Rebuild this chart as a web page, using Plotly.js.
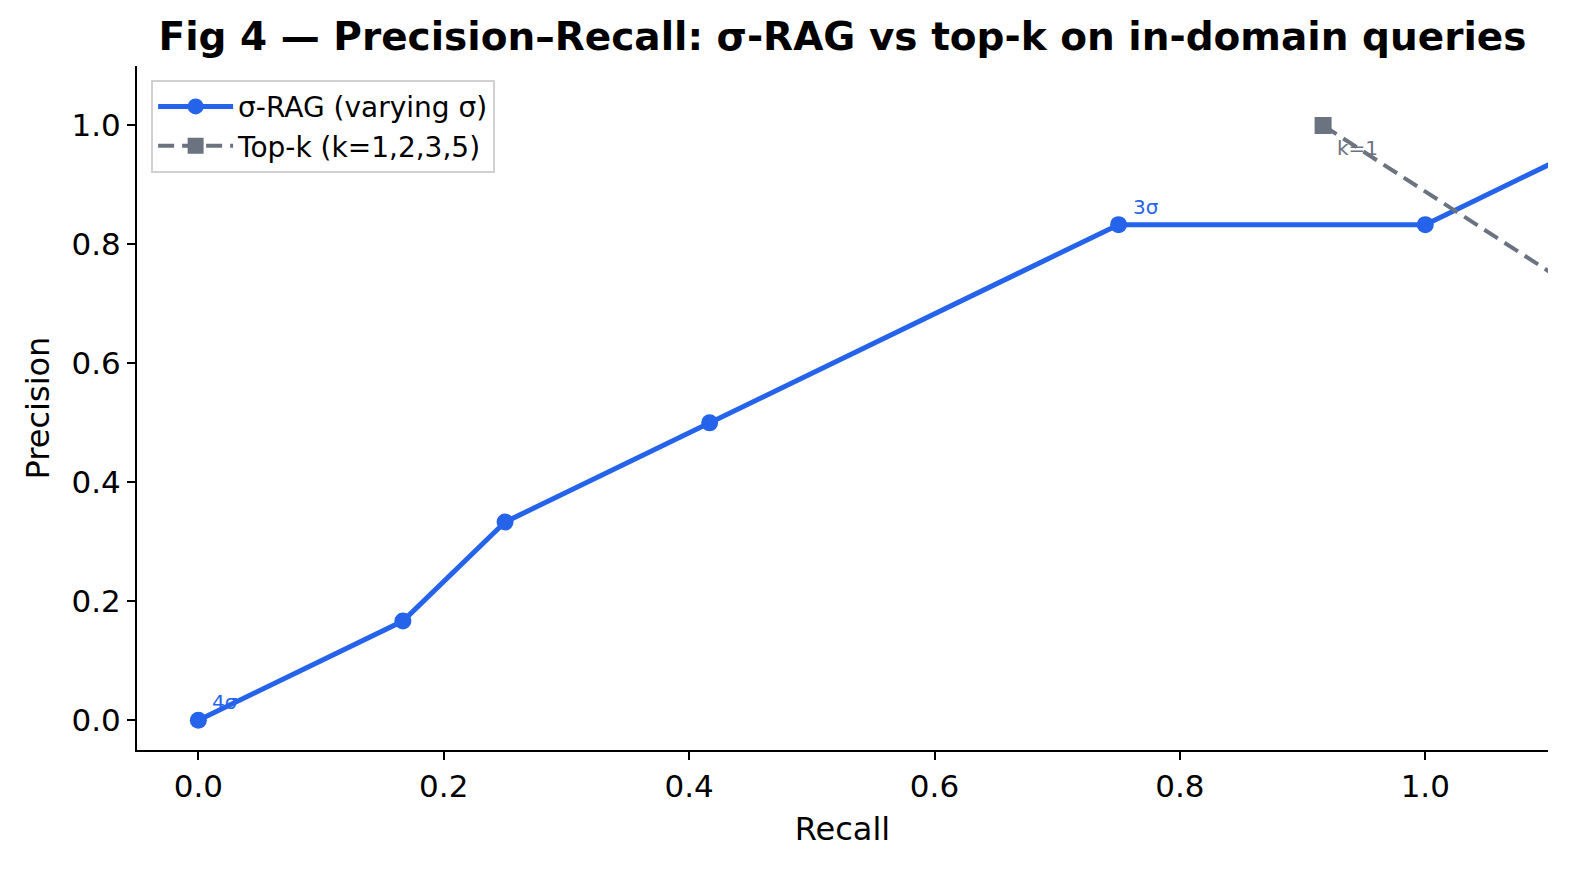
<!DOCTYPE html>
<html>
<head>
<meta charset="utf-8">
<script src="https://cdn.plot.ly/plotly-3.0.1.min.js"></script>
<style>html,body{margin:0;padding:0;background:#fff}#chart{width:1569px;height:869px}</style>
</head>
<body>
<div id="chart"></div>
<script>
// σ-RAG (varying σ)
const sigmaRecall = [0.0, 0.1667, 0.25, 0.4167, 0.75, 1.0, 1.1667];
const sigmaPrecision = [0.0, 0.1667, 0.3333, 0.5, 0.8333, 0.8333, 1.0];
const sigmaLabelIdx = [0, 4];
const sigmaLabels = ["4σ", "3σ"];
// Top-k
const topkRecall = [0.9167, 1.1667];
const topkPrecision = [1.0, 0.6667];
const topkLabelIdx = [0];
const topkLabels = ["k=1"];

const xTicks = [0.0, 0.2, 0.4, 0.6, 0.8, 1.0];
const yTicks = [0.0, 0.2, 0.4, 0.6, 0.8, 1.0];

const FONT = "DejaVu Sans, sans-serif";
const BLUE = "#2563eb";
const GRAY = "#6b7280";

const traces = [
  {
    x: sigmaRecall, y: sigmaPrecision, mode: "lines+markers", name: "σ-RAG (varying σ)",
    line: {color: BLUE, width: 5}, marker: {color: BLUE, size: 17, symbol: "circle"}
  },
  {
    x: topkRecall, y: topkPrecision, mode: "lines+markers", name: "Top-k (k=1,2,3,5)",
    line: {color: GRAY, width: 4, dash: "16px,8px"}, marker: {color: GRAY, size: 17, symbol: "square"}
  }
];

const annotations = [];
sigmaLabelIdx.forEach((i, j) => annotations.push({
  x: sigmaRecall[i], y: sigmaPrecision[i], xref: "x", yref: "y", text: sigmaLabels[j],
  showarrow: false, xanchor: "left", yanchor: "bottom", xshift: 12, yshift: 4,
  font: {family: FONT, size: 20, color: BLUE}
}));
topkLabelIdx.forEach((i, j) => annotations.push({
  x: topkRecall[i], y: topkPrecision[i], xref: "x", yref: "y", text: topkLabels[j],
  showarrow: false, xanchor: "left", yanchor: "top", xshift: 12, yshift: -9,
  font: {family: FONT, size: 20, color: GRAY}
}));

const layout = {
  width: 1569, height: 869,
  paper_bgcolor: "#fff", plot_bgcolor: "#fff",
  margin: {l: 137, r: 21, t: 66, b: 119, pad: 0},
  font: {family: FONT, color: "#000"},
  title: {text: "<b>Fig 4 — Precision–Recall: σ-RAG vs top-k on in-domain queries</b>",
    font: {family: FONT, size: 39, color: "#000"}, xref: "paper", x: 0.5, xanchor: "center", y: 0.958, yanchor: "middle"},
  xaxis: {
    range: [-0.05, 1.1], tickvals: xTicks, ticktext: xTicks.map(v => v.toFixed(1)),
    showgrid: false, zeroline: false, showline: true, linecolor: "#000", linewidth: 2, mirror: false,
    ticks: "outside", ticklen: 8, tickwidth: 2, tickcolor: "#000",
    tickfont: {family: FONT, size: 31, color: "#000"},
    title: {text: "Recall", font: {family: FONT, size: 32, color: "#000"}, standoff: 14}
  },
  yaxis: {
    range: [-0.05, 1.1], tickvals: yTicks, ticktext: yTicks.map(v => v.toFixed(1)),
    showgrid: false, zeroline: false, showline: true, linecolor: "#000", linewidth: 2, mirror: false,
    ticks: "outside", ticklen: 8, tickwidth: 2, tickcolor: "#000",
    tickfont: {family: FONT, size: 31, color: "#000"},
    title: {text: "Precision", font: {family: FONT, size: 32, color: "#000"}, standoff: 12}
  },
  legend: {
    x: 0.01, y: 0.98, xanchor: "left", yanchor: "top",
    bgcolor: "rgba(255,255,255,0.8)", bordercolor: "#d0d0d0", borderwidth: 2,
    font: {family: FONT, size: 28, color: "#000"}, tracegroupgap: 4, itemwidth: 75
  },
  annotations: annotations,
  showlegend: true
};

Plotly.newPlot("chart", traces, layout, {displayModeBar: false, staticPlot: true});
</script>
</body>
</html>
